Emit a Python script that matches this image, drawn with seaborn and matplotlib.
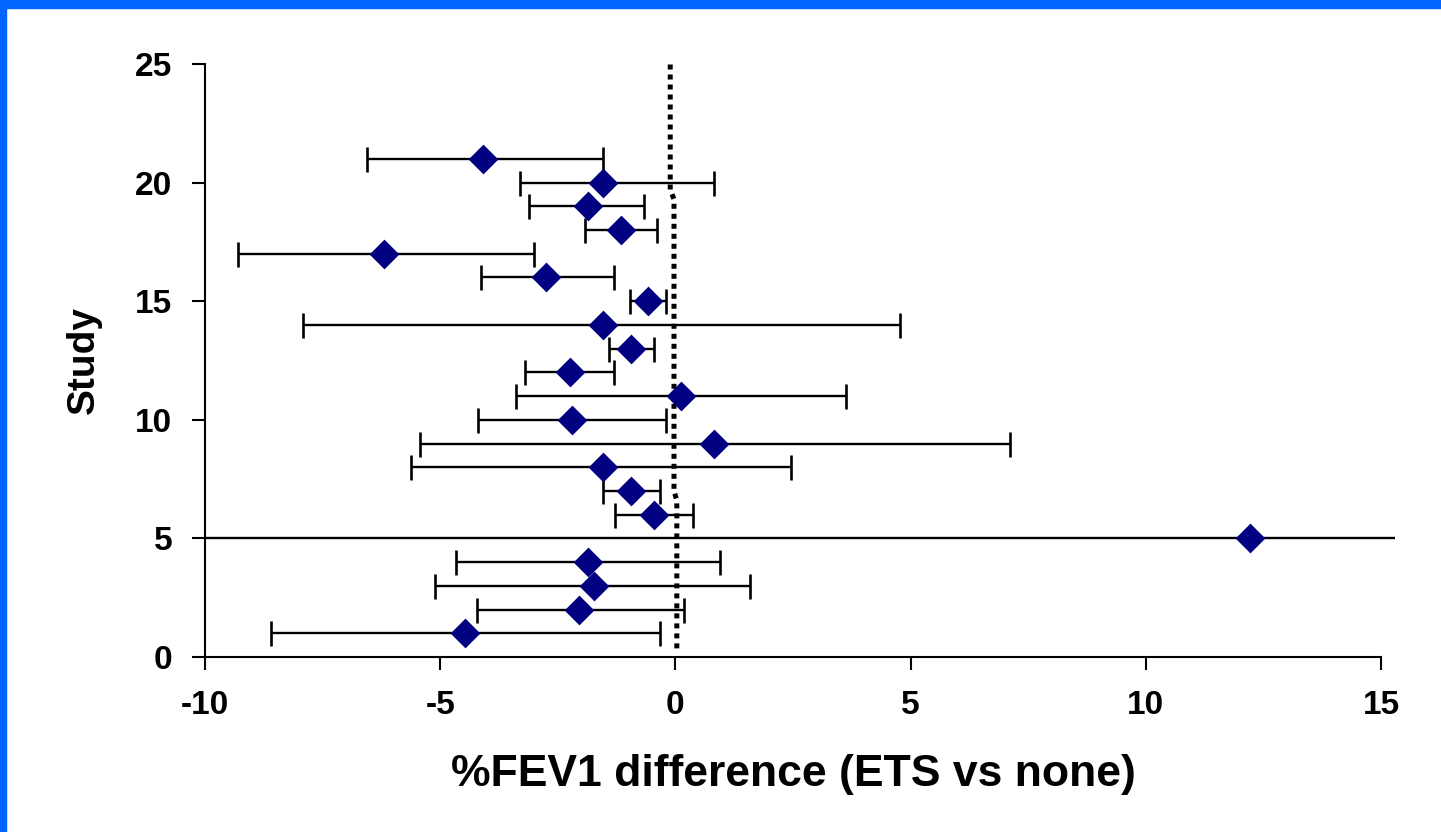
import matplotlib
matplotlib.use("Agg")
import matplotlib.pyplot as plt
import seaborn as sns
import pandas as pd
from matplotlib.patches import Rectangle

# ---- data ----
study = list(range(1, 22))
estimate = [-4.47, -2.05, -1.73, -1.86, 12.22, -0.45, -0.95, -1.54, 0.83, -2.20, 0.12,
            -2.24, -0.95, -1.54, -0.58, -2.75, -6.20, -1.16, -1.86, -1.54, -4.09]
lower = [-8.60, -4.22, -5.11, -4.66, -10.0, -1.28, -1.53, -5.62, -5.43, -4.19, -3.39,
         -3.20, -1.41, -7.92, -0.96, -4.13, -9.30, -1.92, -3.11, -3.30, -6.55]
upper = [-0.33, 0.18, 1.58, 0.95, 15.3, 0.38, -0.33, 2.46, 7.11, -0.20, 3.63,
         -1.31, -0.45, 4.77, -0.19, -1.31, -3.00, -0.39, -0.67, 0.82, -1.54]
capped = [True, True, True, True, False] + [True] * 16

ref_x = [-0.11, -0.11, -0.03, -0.03, 0.03, 0.03]
ref_y = [25.4, 19.7, 19.3, 7.0, 6.6, 0.35]

xticks = [-10, -5, 0, 5, 10, 15]
yticks = [0, 5, 10, 15, 20, 25]
xlabel = "%FEV1 difference (ETS vs none)"
ylabel = "Study"

df = pd.DataFrame({"study": study, "estimate": estimate, "lower": lower, "upper": upper})
ref = pd.DataFrame({"x": ref_x, "y": ref_y})

sns.set_theme(style="white")
plt.rcParams["font.family"] = ["Liberation Sans", "DejaVu Sans"]
plt.rcParams["font.weight"] = "bold"
plt.rcParams["axes.unicode_minus"] = False

fig = plt.figure(figsize=(14.41, 8.32), dpi=100)
fig.patch.set_facecolor("white")
ax = fig.add_axes([205 / 1441, 1 - 657 / 832, (1381 - 205) / 1441, (657 - 64) / 832])

# error bars
for i, row in df.iterrows():
    err = [[row.estimate - row.lower], [row.upper - row.estimate]]
    ax.errorbar(row.estimate, row.study, xerr=err, fmt="none", ecolor="black",
                elinewidth=1.7, capsize=9 if capped[i] else 0, capthick=1.9,
                clip_on=False, zorder=2)

# reference dotted line
sns.lineplot(data=ref, x="x", y="y", sort=False, estimator=None, ax=ax,
             color="black", linewidth=3.6, linestyle=(0, (1.0, 1.0)), zorder=3)

# diamonds
sns.scatterplot(data=df, x="estimate", y="study", ax=ax, marker="D", s=230,
                color="#000080", edgecolor="#000080", linewidth=0, zorder=4, clip_on=False)

ax.set_xlim(-10, 15)
ax.set_ylim(0, 25)
ax.set_xticks(xticks)
ax.set_yticks(yticks)
ax.set_xlabel(xlabel, fontsize=32, fontweight="bold", labelpad=24, color="black")
ax.set_ylabel(ylabel, fontsize=28, fontweight="bold", labelpad=24, color="black")
ax.tick_params(axis="both", which="major", direction="out", length=9.5, width=1.5,
               colors="black", labelsize=24, bottom=True, left=True)
ax.tick_params(axis="y", pad=14)
ax.tick_params(axis="x", pad=14)
for lab in ax.get_xticklabels() + ax.get_yticklabels():
    lab.set_fontweight("bold")
for s in ["top", "right"]:
    ax.spines[s].set_visible(False)
for s in ["left", "bottom"]:
    ax.spines[s].set_color("black")
    ax.spines[s].set_linewidth(1.5)
ax.set_facecolor("white")

# blue frame
fig.patches.append(Rectangle((0, 1 - 8 / 832), 1, 8 / 832, transform=fig.transFigure,
                             color="#0066FF", zorder=10))
fig.patches.append(Rectangle((0, 0), 6 / 1441, 1, transform=fig.transFigure,
                             color="#0066FF", zorder=10))

fig.savefig("out.png", dpi=100, facecolor="white")
